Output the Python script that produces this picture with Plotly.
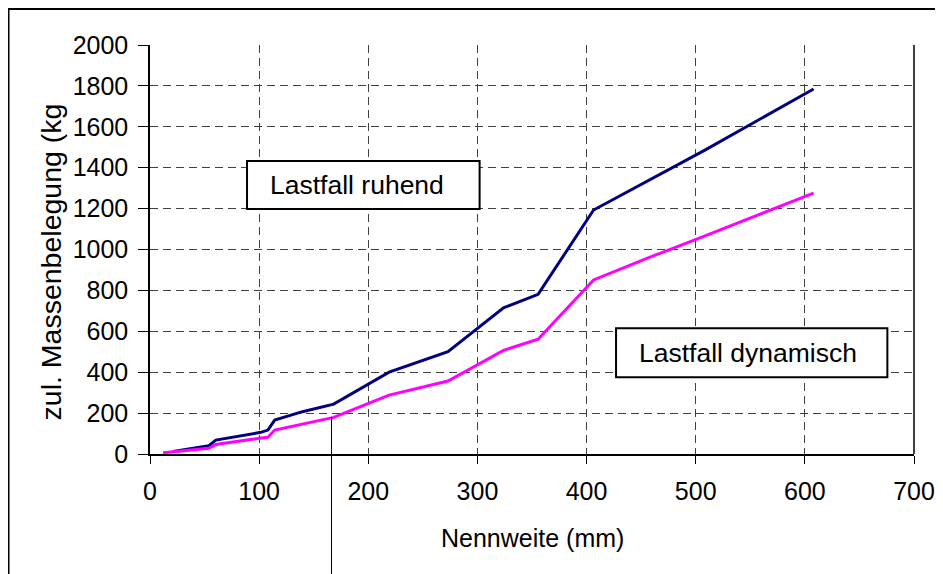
import plotly.graph_objects as go

# Data
x_ruhend = [21.3, 26.9, 33.7, 42.4, 48.3, 54.0, 60.3, 76.1, 88.9, 101.6, 108.0, 114.3,
            139.7, 168.3, 219.1, 273.0, 323.9, 355.6, 406.4, 457.0, 508.0, 608.0]
y_ruhend = [12, 18, 25, 31, 36, 41, 68, 83, 95, 106, 117, 166,
            207, 244, 400, 500, 715, 781, 1193, 1340, 1485, 1785]

x_dynamisch = [12.0, 21.3, 26.9, 33.7, 42.4, 48.3, 54.0, 60.3, 76.1, 88.9, 101.6, 108.0, 114.3,
               139.7, 159.0, 168.3, 219.1, 273.0, 323.9, 355.6, 406.4, 457.0, 508.0, 608.0]
y_dynamisch = [6, 11, 14, 18, 22, 25, 28, 47, 57, 68, 78, 82, 117,
               145, 166, 179, 288, 357, 507, 561, 851, 960, 1065, 1276]

x_ticks = [0, 100, 200, 300, 400, 500, 600, 700]
y_ticks = [0, 200, 400, 600, 800, 1000, 1200, 1400, 1600, 1800, 2000]

label_ruhend = "Lastfall ruhend"
label_dynamisch = "Lastfall dynamisch"
x_title = "Nennweite (mm)"
y_title = "zul. Massenbelegung (kg"

FONT = "Liberation Sans, Arial, sans-serif"

fig = go.Figure()
fig.add_trace(go.Scatter(x=x_ruhend, y=y_ruhend, mode="lines",
                         line=dict(color="#000080", width=3), name=label_ruhend))
fig.add_trace(go.Scatter(x=x_dynamisch, y=y_dynamisch, mode="lines",
                         line=dict(color="#FF00FF", width=3), name=label_dynamisch))

grid = dict(showgrid=True, gridcolor="#404040", gridwidth=1, griddash="8px,5px")

fig.update_xaxes(range=[0, 700], tickvals=x_ticks, ticks="outside", ticklen=8,
                 tickcolor="black", tickwidth=1, showline=True, linecolor="black",
                 linewidth=1.5, zeroline=False, ticklabelstandoff=6,
                 tickfont=dict(size=25, color="black", family=FONT), **grid)
fig.update_yaxes(range=[0, 2000], tickvals=y_ticks, ticks="outside", ticklen=10,
                 tickcolor="black", tickwidth=1, showline=True, linecolor="black",
                 linewidth=1.5, zeroline=False, ticklabelstandoff=5,
                 tickfont=dict(size=25, color="black", family=FONT), **grid)

# label boxes
boxes = [dict(x0=88.9, x1=302, y0=1198, y1=1433),
         dict(x0=427, x1=675.6, y0=375, y1=615)]
for b in boxes:
    fig.add_shape(type="rect", xref="x", yref="y", x0=b["x0"], x1=b["x1"],
                  y0=b["y0"], y1=b["y1"], line=dict(color="black", width=2),
                  fillcolor="white", layer="above")

fig.add_annotation(x=108, y=1315, xref="x", yref="y", text=label_ruhend,
                   showarrow=False, xanchor="left", yanchor="middle",
                   font=dict(size=26.5, color="black", family=FONT))
fig.add_annotation(x=446, y=495, xref="x", yref="y", text=label_dynamisch,
                   showarrow=False, xanchor="left", yanchor="middle",
                   font=dict(size=26.5, color="black", family=FONT))

# axis titles
fig.add_annotation(x=0.5, y=-0.205, xref="paper", yref="paper", text=x_title,
                   showarrow=False, xanchor="center", yanchor="middle",
                   font=dict(size=25, color="black", family=FONT))
fig.add_annotation(x=-0.13, y=0.470, xref="paper", yref="paper", text=y_title,
                   showarrow=False, xanchor="center", yanchor="middle", textangle=-90,
                   font=dict(size=28.5, color="black", family=FONT))

# right border of the plot area
fig.add_shape(type="line", xref="paper", yref="paper", x0=1, x1=1, y0=0, y1=1,
              line=dict(color="black", width=1.5))
# thin leader line below the chart
fig.add_shape(type="line", xref="paper", yref="paper", x0=0.2376, x1=0.2376,
              y0=0.0905, y1=-0.31, line=dict(color="black", width=1))
# outer frame (left and top edges visible)
fig.add_shape(type="rect", xref="paper", yref="paper", x0=-0.1852, x1=1.2,
              y0=-0.5, y1=1.088, line=dict(color="black", width=2))

fig.update_layout(width=943, height=574, showlegend=False,
                  margin=dict(l=142, r=37, t=37, b=128),
                  plot_bgcolor="white", paper_bgcolor="white",
                  font=dict(family=FONT, color="black"))

fig.write_html("out.html")
